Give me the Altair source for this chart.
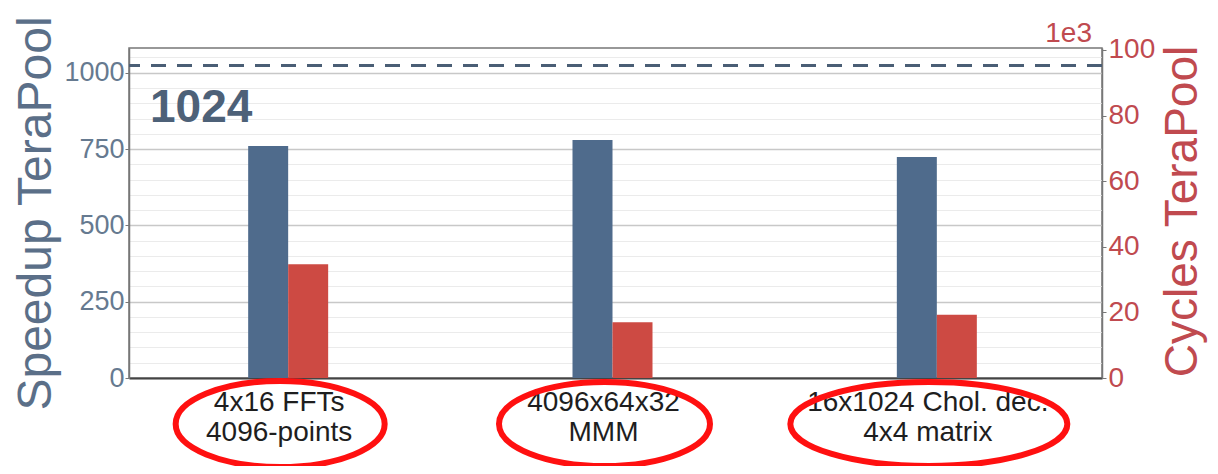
import altair as alt
import pandas as pd

# ---- data ----
categories = ["4x16 FFTs|4096-points", "4096x64x32|MMM", "16x1024 Chol. dec.|4x4 matrix"]
speedup = [760, 780, 724]
cycles_k = [34.7, 17.0, 19.3]
ideal_speedup = [1024]
left_ticks = list(range(0, 1051, 50))
right_ticks = [0, 20, 40, 60, 80, 100]

df = pd.DataFrame({"cat": categories, "speedup": speedup, "cycles": cycles_k})
ideal_df = pd.DataFrame({"v": ideal_speedup, "t": [str(v) for v in ideal_speedup]})
unit_df = pd.DataFrame({"t": ["1e3"]})

# ---- style ----
FONT = "Liberation Sans"
W, H = 973, 330
BLUE = "#4f6b8c"
RED = "#cd4a43"
LEFT_TXT = "#667a90"
LEFT_TITLE = "#5b6f88"
RED_TXT = "#c04a4f"
ELL_RED = "#ff1010"
ellipse_w = [209, 211, 277]
ellipse_h = [86, 84, 84]

x_enc = alt.X(
    "cat:N", sort=categories,
    scale=alt.Scale(paddingInner=0, paddingOuter=0),
    axis=alt.Axis(title=None, labelAngle=0, labelExpr="split(datum.label, '|')",
                  labelFont=FONT, labelFontSize=28, labelColor="#1e1e1e",
                  labelLineHeight=30, labelPadding=10, labelOffset=-12,
                  labelLimit=500, labelOverlap=False,
                  ticks=False, domainColor="#444444", domainWidth=2, grid=False),
)

major = "datum.value % 250 === 0"
left_axis = alt.Axis(
    orient="left", values=left_ticks, format="d",
    labelExpr=f"{major} ? datum.label : ''", labelOverlap=False,
    labelFont=FONT, labelFontSize=27, labelColor=LEFT_TXT, labelPadding=1,
    tickSize=4, tickColor="#777777",
    tickOpacity={"condition": {"test": major, "value": 1}, "value": 0},
    domainColor="#777777", domainWidth=1.5,
    grid=True,
    gridColor={"condition": {"test": major, "value": "#c8c8c8"}, "value": "#ebebeb"},
    gridWidth={"condition": {"test": major, "value": 1.5}, "value": 1},
    title="Speedup TeraPool", titleFont=FONT, titleFontSize=48,
    titleFontWeight="normal", titleColor=LEFT_TITLE, titleAngle=-90,
    titleAlign="center", titleBaseline="alphabetic", titleX=-79, titleY=165,
)

right_axis = alt.Axis(
    orient="right", values=right_ticks, format="d", labelOverlap=False,
    labelFont=FONT, labelFontSize=28, labelColor=RED_TXT, labelPadding=2,
    tickSize=4, tickColor="#777777", domainColor="#777777", domainWidth=1.5,
    grid=False,
    title="Cycles TeraPool", titleFont=FONT, titleFontSize=46,
    titleFontWeight="normal", titleColor=RED_TXT, titleAngle=-90,
    titleAlign="center", titleBaseline="alphabetic", titleX=94, titleY=163,
)

left_scale = alt.Scale(domain=[0, 1081], nice=False)

blue = alt.Chart(df).mark_bar(color=BLUE, width=40, xOffset=-23).encode(
    x=x_enc,
    y=alt.Y("speedup:Q", scale=left_scale, axis=left_axis),
)
rule = alt.Chart(ideal_df).mark_rule(
    color="#4a5e75", strokeWidth=3, strokeDash=[15, 11]
).encode(y=alt.Y("v:Q", scale=left_scale, axis=left_axis))
label1024 = alt.Chart(ideal_df).mark_text(
    align="left", baseline="alphabetic", font=FONT, fontSize=46,
    fontWeight="bold", color="#4d6178"
).encode(text="t:N", x=alt.value(21), y=alt.value(74))

left_group = alt.layer(blue, rule, label1024)

red = alt.Chart(df).mark_bar(color=RED, width=40, xOffset=17).encode(
    x=x_enc,
    y=alt.Y("cycles:Q", scale=alt.Scale(domain=[0, 100.6], nice=False), axis=right_axis),
)
unit = alt.Chart(unit_df).mark_text(
    align="right", baseline="alphabetic", font=FONT, fontSize=28, color=RED_TXT
).encode(text="t:N", x=alt.value(W - 10), y=alt.value(-6))

right_group = alt.layer(red, unit)

ellipses = []
for cat, w, h in zip(categories, ellipse_w, ellipse_h):
    r = h / w
    path = f"M -1 0 A 1 {r:.4f} 0 1 0 1 0 A 1 {r:.4f} 0 1 0 -1 0 Z"
    ellipses.append(
        alt.Chart(df).transform_filter(alt.datum.cat == cat).mark_point(
            shape=path, size=w * w, filled=False, color=ELL_RED,
            strokeWidth=6, opacity=1, xOffset=-11
        ).encode(x=x_enc, y=alt.value(376))
    )

chart = alt.layer(left_group, right_group, *ellipses).resolve_scale(
    y="independent"
).properties(
    width=W, height=H,
    autosize=alt.AutoSizeParams(type="none"),
    padding={"left": 121, "top": 40, "right": 108, "bottom": 88},
    background="white",
).configure_view(stroke="#777777", strokeWidth=1.5)

chart.save("out.html", embed_options={"renderer": "svg", "actions": False})
